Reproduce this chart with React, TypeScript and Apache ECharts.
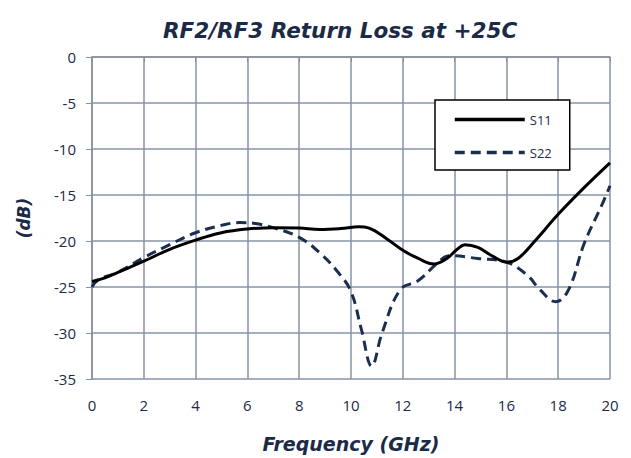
import React, { useEffect, useRef } from "react";
import * as echarts from "echarts";

const title = "RF2/RF3 Return Loss at +25C";
const xTicks = [0, 2, 4, 6, 8, 10, 12, 14, 16, 18, 20];
const yTicks = [0, -5, -10, -15, -20, -25, -30, -35];

const freqS11 = [0, 0.5, 1, 2, 3, 4, 5, 6, 7, 8, 8.8, 9.6, 10.3, 10.7, 11.4, 12, 12.6, 13.2, 13.7, 14.1, 14.4, 14.9, 15.5, 16, 16.45, 17.1, 18, 19, 20];
const s11 = [-24.4, -24.0, -23.4, -22.2, -20.9, -19.9, -19.1, -18.7, -18.55, -18.6, -18.75, -18.65, -18.45, -18.6, -19.8, -21.0, -21.9, -22.5, -21.9, -20.9, -20.4, -20.7, -21.7, -22.3, -21.9, -20.0, -17.1, -14.2, -11.5];

const freqS22 = [0, 0.25, 1, 2, 3, 4, 5, 5.7, 6.3, 7, 8, 8.8, 9.5, 10, 10.4, 10.8, 11.2, 11.9, 12.6, 13.3, 13.8, 14.9, 16, 16.8, 17.3, 17.9, 18.4, 19, 19.7, 20];
const s22 = [-25.0, -24.2, -23.4, -21.8, -20.4, -19.1, -18.3, -18.0, -18.1, -18.55, -19.6, -21.3, -23.4, -25.5, -29.6, -33.6, -30.0, -25.3, -24.3, -22.5, -21.6, -21.9, -22.3, -23.7, -25.3, -26.6, -25.3, -20.3, -16.0, -14.0];

const navy = "#1b2a47";
const headFont = "DejaVu Sans";

export default function App() {
  const ref = useRef<HTMLDivElement>(null);
  useEffect(() => {
    const chart = echarts.init(ref.current!, null, { renderer: "svg" });
    chart.setOption({
      animation: false,
      backgroundColor: "#ffffff",
      title: {
        text: title,
        left: 158,
        top: 14,
        textStyle: {
          fontFamily: headFont,
          fontStyle: "italic",
          fontWeight: "bold",
          fontSize: 21.5,
          color: navy,
        },
      },
      grid: { left: 92, right: 21, top: 57, bottom: 76 },
      legend: {
        orient: "vertical",
        left: 435,
        top: 100,
        itemWidth: 70,
        itemHeight: 14,
        itemGap: 20,
        padding: [13, 18, 11, 18],
        borderColor: "#000000",
        borderWidth: 1.5,
        backgroundColor: "#ffffff",
        itemStyle: { opacity: 0 },
        lineStyle: { width: 3.5 },
        textStyle: { fontFamily: "Open Sans", fontSize: 13, color: navy },
        data: ["S11", "S22"],
      },
      xAxis: {
        type: "value",
        min: xTicks[0],
        max: xTicks[xTicks.length - 1],
        interval: 2,
        name: "Frequency (GHz)",
        nameLocation: "middle",
        nameGap: 55,
        nameTextStyle: {
          fontFamily: headFont,
          fontStyle: "italic",
          fontWeight: "bold",
          fontSize: 19,
          color: navy,
        },
        axisLine: { lineStyle: { color: "#8a8f98", width: 1.5 } },
        axisTick: { show: true, length: 5, inside: false, lineStyle: { color: "#8a8f98" } },
        axisLabel: { fontFamily: "Open Sans", fontSize: 15, color: navy, margin: 18 },
        splitLine: { show: true, lineStyle: { color: "#8793a6", width: 1.5 } },
      },
      yAxis: {
        type: "value",
        min: yTicks[yTicks.length - 1],
        max: yTicks[0],
        interval: 5,
        name: "(dB)",
        nameLocation: "middle",
        nameGap: 60,
        nameTextStyle: {
          fontFamily: headFont,
          fontStyle: "italic",
          fontWeight: "bold",
          fontSize: 17,
          color: navy,
        },
        axisLine: { show: true, lineStyle: { color: "#8a8f98", width: 1.5 } },
        axisTick: { show: true, length: 6, lineStyle: { color: "#8a8f98" } },
        axisLabel: { fontFamily: "Open Sans", fontSize: 15, color: navy, margin: 16 },
        splitLine: { show: true, lineStyle: { color: "#8793a6", width: 1.5 } },
      },
      series: [
        {
          name: "S11",
          type: "line",
          data: freqS11.map((f, i) => [f, s11[i]]),
          smooth: 0.4,
          symbol: "none",
          lineStyle: { color: "#000000", width: 3 },
          itemStyle: { color: "#000000" },
          z: 3,
        },
        {
          name: "S22",
          type: "line",
          data: freqS22.map((f, i) => [f, s22[i]]),
          smooth: 0.4,
          symbol: "none",
          lineStyle: { color: "#1c2e4d", width: 3, type: [10, 6] },
          itemStyle: { color: "#1c2e4d" },
          z: 2,
        },
      ],
    });
    return () => chart.dispose();
  }, []);
  return <div ref={ref} style={{ width: 631, height: 458, position: "absolute", left: 0, top: 0 }} />;
}
